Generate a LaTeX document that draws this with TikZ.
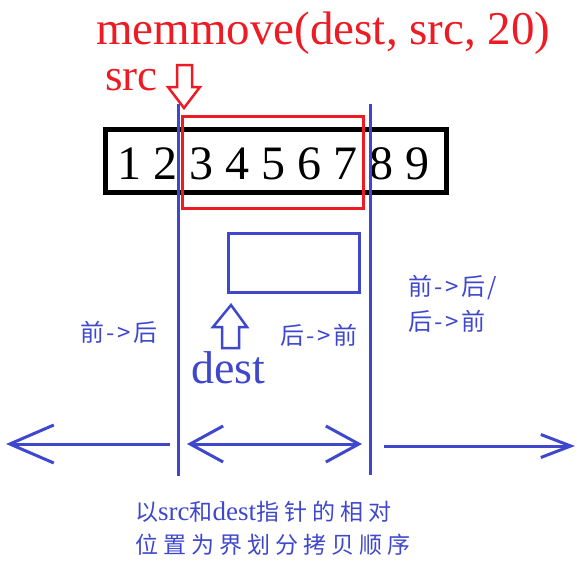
\documentclass[tikz,border=0pt]{standalone}
\usepackage{fontspec}
\setmainfont{Liberation Serif}
\newfontfamily\cjk[LetterSpace=10]{Noto Sans CJK SC}
\newfontfamily\cjksp[LetterSpace=22]{Noto Sans CJK SC}
\usetikzlibrary{arrows.meta}

\definecolor{paintred}{RGB}{237,28,36}
\definecolor{paintblue}{RGB}{63,72,204}

\begin{document}
\begin{tikzpicture}[x=1pt, y=-1pt,
    big/.style      = {font=\fontsize{47}{47}\selectfont, inner sep=0pt},
    digit/.style    = {font=\fontsize{48}{48}\selectfont, inner sep=0pt, anchor=base},
    bluetext/.style = {text=paintblue, font=\cjk\fontsize{24}{26}\selectfont,
      inner sep=0pt, align=left},
    notetext/.style = {bluetext, anchor=west, font=\cjksp\fontsize{23}{23}\selectfont},
    box/.style      = {draw, inner sep=0pt},
    border/.style   = {paintblue, line width=3pt},
    blockarrow/.style = {line width=2.5pt, line join=miter},
  ]
  \useasboundingbox (0,0) rectangle (581,566);
  \newcommand\latin[1]{{\rmfamily\fontsize{27}{27}\selectfont #1}}

  % call and pointers
  \node[big, text=paintred, anchor=base west] (title) at (96,44) {memmove(dest, src, 20)};
  \node[big, text=paintred, anchor=base west, font=\fontsize{45}{45}\selectfont] (srclabel) at (105,90) {src};
  \draw[blockarrow, paintred] (184,108) -- (200,87) -- (192,87) -- (192,65)
    -- (177,65) -- (177,87) -- (168,87) -- cycle;

  % the array
  \node[box, line width=5pt, minimum width=341, minimum height=63] (arr) at (276,161) {};
  \foreach \n in {1,...,9}
    \node[digit] (d\n) at ({93+36*\n},179) {\n};
  \node[box, paintred, line width=3pt, minimum width=181, minimum height=92] (srcbox) at (273,162.5) {};

  % dest
  \node[box, paintblue, line width=3pt, minimum width=131, minimum height=59] (destbox) at (294,263) {};
  \draw[blockarrow, paintblue] (231,305) -- (247,327) -- (239,327) -- (239,348)
    -- (222,348) -- (222,327) -- (213,327) -- cycle;
  \node[big, text=paintblue, anchor=base west, font=\fontsize{46}{46}\selectfont] (destlabel) at (191,383) {dest};

  % borders
  \coordinate (lefttop) at (178,104);
  \coordinate (leftbot) at (178,476);
  \coordinate (righttop) at (370,104);
  \coordinate (rightbot) at (370,475);
  \draw[border] (lefttop) -- (leftbot);
  \draw[border] (righttop) -- (rightbot);

  % copy directions
  \node[bluetext, anchor=west] (fwd) at (80,332) {前->后};
  \node[bluetext, anchor=west] (bwd) at (280,335) {后->前};
  \node[bluetext, anchor=north west, font=\cjk\fontsize{24}{35}\selectfont] (both) at (408,275) {前->后/\\后->前};

  \coordinate (la) at (170,444);
  \coordinate (lb) at (6,444);
  \coordinate (ma) at (187,444);
  \coordinate (mb) at (362,444);
  \coordinate (ra) at (384,446);
  \coordinate (rb) at (575,446);
  \draw[border, -{Straight Barb[length=44pt, width=38pt]}] (la) -- (lb);
  \draw[border, {Straight Barb[length=33pt, width=36pt]}-{Straight Barb[length=33pt, width=36pt]}] (ma) -- (mb);
  \draw[border, -{Straight Barb[length=30pt, width=23pt]}] (ra) -- (rb);

  % note
  \node[notetext] (note1) at (135,512) {以\latin{src}和\latin{dest}指针的相对};
  \node[notetext] (note2) at (135,545) {位置为界划分拷贝顺序};
\end{tikzpicture}
\end{document}
